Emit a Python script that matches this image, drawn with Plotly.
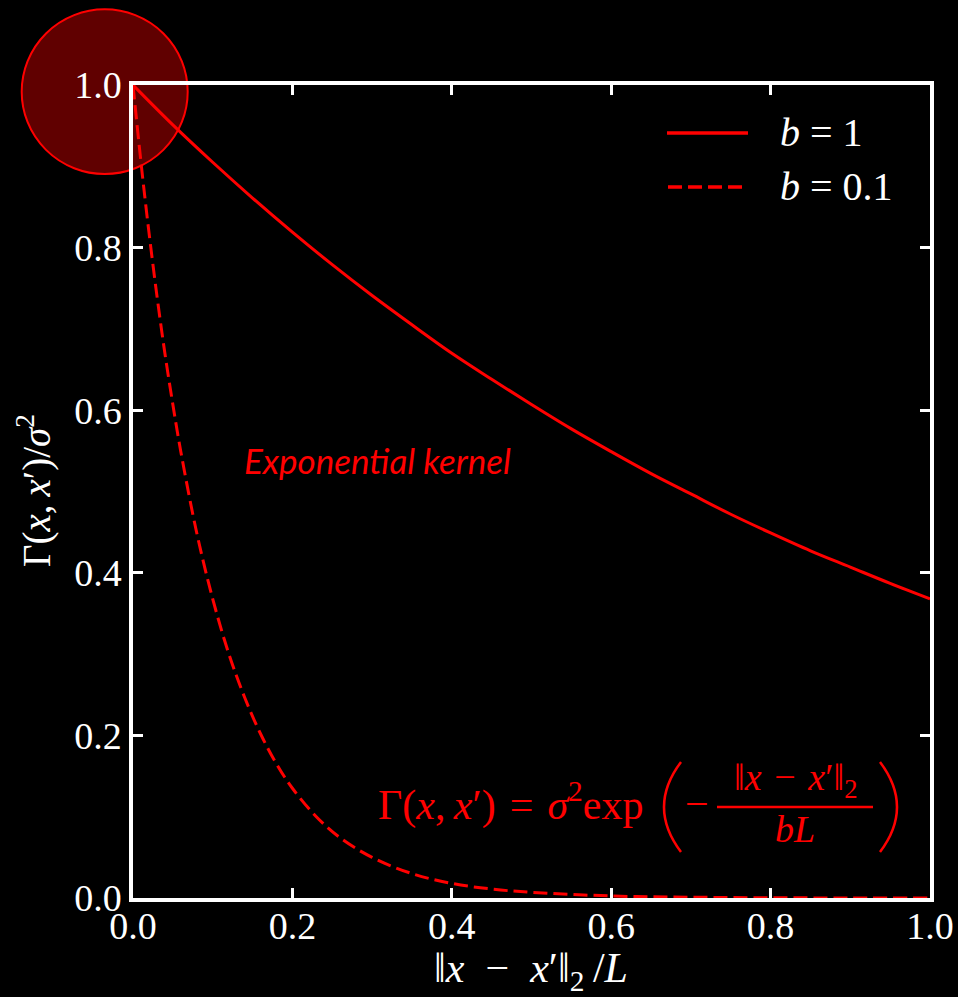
import plotly.graph_objects as go

# ---- data ----
x_b1 = [0.0, 0.05, 0.10, 0.15, 0.20, 0.25, 0.30, 0.35, 0.40, 0.45, 0.50,
        0.55, 0.60, 0.65, 0.70, 0.75, 0.80, 0.85, 0.90, 0.95, 1.0]
y_b1 = [1.0, 0.951, 0.905, 0.861, 0.819, 0.779, 0.741, 0.705, 0.670, 0.638, 0.607,
        0.577, 0.549, 0.522, 0.497, 0.472, 0.449, 0.427, 0.407, 0.387, 0.368]

x_b01 = [0.0, 0.01, 0.02, 0.03, 0.04, 0.05, 0.06, 0.08, 0.10, 0.12, 0.14, 0.16, 0.18,
         0.20, 0.23, 0.26, 0.30, 0.35, 0.40, 0.45, 0.50, 0.60, 0.70, 0.80, 0.90, 1.0]
y_b01 = [1.0, 0.905, 0.819, 0.741, 0.670, 0.607, 0.549, 0.449, 0.368, 0.301, 0.247, 0.202, 0.165,
         0.135, 0.100, 0.074, 0.050, 0.030, 0.018, 0.011, 0.007, 0.0025, 0.001, 0.0003, 0.0001, 0.00005]

series_names = ["<i>b</i> = 1", "<i>b</i> = 0.1"]
tick_vals = [0.0, 0.2, 0.4, 0.6, 0.8, 1.0]
tick_text = ["0.0", "0.2", "0.4", "0.6", "0.8", "1.0"]

# ---- layout geometry ----
W, H = 958, 997
L_, R_, T_, B_ = 133, 28, 85, 99
PW, PH = W - L_ - R_, H - T_ - B_


def px(xpix):
    return (xpix - L_) / PW


def py(ypix):
    return (H - B_ - ypix) / PH


RED = "#ff0000"
SERIF = "Liberation Serif"
TS = "\u2009"   # thin space
MS = "\u2004"   # three-per-em space
ES = "\u2002"   # en space

fig = go.Figure()
fig.add_trace(go.Scatter(x=x_b1, y=y_b1, mode="lines", name=series_names[0],
                         line=dict(color=RED, width=3, shape="spline"), showlegend=False))
fig.add_trace(go.Scatter(x=x_b01, y=y_b01, mode="lines", name=series_names[1],
                         line=dict(color=RED, width=3, dash="14px,6px", shape="spline"),
                         showlegend=False))

axis_common = dict(range=[0, 1], tickvals=tick_vals, ticktext=tick_text,
                   showline=True, linecolor="white", linewidth=3.5, mirror="ticks",
                   ticks="inside", ticklen=10, tickwidth=3, tickcolor="white",
                   showgrid=False, zeroline=False, automargin=False,
                   tickfont=dict(family=SERIF, size=38, color="white"))

fig.update_layout(
    template="none",
    width=W, height=H,
    margin=dict(l=L_, r=R_, t=T_, b=B_, autoexpand=False),
    paper_bgcolor="black", plot_bgcolor="rgba(0,0,0,0)",
    xaxis=dict(axis_common, ticklabelstandoff=-8),
    yaxis=dict(axis_common),
    showlegend=False,
)

shapes = []
# highlight circle
shapes.append(dict(type="circle", xref="paper", yref="paper",
                   x0=px(21.7), x1=px(187.7), y0=py(174), y1=py(9.3),
                   fillcolor="#600000", line=dict(color=RED, width=2), layer="below"))

# custom legend
shapes.append(dict(type="line", xref="paper", yref="paper",
                   x0=px(667), x1=px(748), y0=py(133), y1=py(133),
                   line=dict(color=RED, width=3.5)))
shapes.append(dict(type="line", xref="paper", yref="paper",
                   x0=px(668), x1=px(748), y0=py(187), y1=py(187),
                   line=dict(color=RED, width=3.5, dash="14px,6px")))

# formula parentheses and fraction bar
def paren(xtop, xmid, ytop, ybot):
    x0, y0 = px(xtop), py(ytop)
    x1, y1 = px(xtop), py(ybot)
    cx = px(2 * xmid - xtop)
    cy = (y0 + y1) / 2
    return f"M {x0} {y0} Q {cx} {cy} {x1} {y1}"

shapes.append(dict(type="path", xref="paper", yref="paper",
                   path=paren(681, 664, 762, 852), line=dict(color=RED, width=2.5)))
shapes.append(dict(type="path", xref="paper", yref="paper",
                   path=paren(880, 897, 762, 852), line=dict(color=RED, width=2.5)))
shapes.append(dict(type="line", xref="paper", yref="paper",
                   x0=px(717), x1=px(873), y0=py(807), y1=py(807),
                   line=dict(color=RED, width=2.5)))
fig.update_layout(shapes=shapes)

ann = []
# legend labels
ann.append(dict(x=px(778), y=py(133), xref="paper", yref="paper", text=series_names[0],
                showarrow=False, xanchor="left", yanchor="middle",
                font=dict(family=SERIF, size=40, color="white")))
ann.append(dict(x=px(778), y=py(187), xref="paper", yref="paper", text=series_names[1],
                showarrow=False, xanchor="left", yanchor="middle",
                font=dict(family=SERIF, size=40, color="white")))
# axis titles
ann.append(dict(x=px(531), y=py(971), xref="paper", yref="paper",
                text=f"‖<i>x</i>{ES}−{ES}<i>x</i>′‖<sub>2</sub>{TS}/<i>L</i>",
                showarrow=False, xanchor="center", yanchor="middle",
                font=dict(family=SERIF, size=42, color="white")))
ann.append(dict(x=px(34), y=py(491), xref="paper", yref="paper",
                text=f"Γ(<i>x</i>,{TS}<i>x</i>′)/<i>σ</i><sup>2</sup>", textangle=-90,
                showarrow=False, xanchor="center", yanchor="middle",
                font=dict(family=SERIF, size=39, color="white")))
# Exponential kernel label
ann.append(dict(x=px(377), y=py(460), xref="paper", yref="paper",
                text="<i>Exponential kernel</i>",
                showarrow=False, xanchor="center", yanchor="middle",
                font=dict(family="Lato", size=35, color=RED)))
# formula
ann.append(dict(x=px(645), y=py(802), xref="paper", yref="paper",
                text=f"Γ(<i>x</i>,{TS}<i>x</i>′){MS}={MS}<i>σ</i><sup>2</sup>exp",
                showarrow=False, xanchor="right", yanchor="middle",
                font=dict(family=SERIF, size=42, color=RED)))
ann.append(dict(x=px(697), y=py(804), xref="paper", yref="paper", text="−",
                showarrow=False, xanchor="center", yanchor="middle",
                font=dict(family=SERIF, size=42, color=RED)))
ann.append(dict(x=px(795), y=py(780), xref="paper", yref="paper",
                text=f"‖<i>x</i>{MS}−{MS}<i>x</i>′‖<sub>2</sub>",
                showarrow=False, xanchor="center", yanchor="middle",
                font=dict(family=SERIF, size=38, color=RED)))
ann.append(dict(x=px(795), y=py(829), xref="paper", yref="paper",
                text="<i>bL</i>",
                showarrow=False, xanchor="center", yanchor="middle",
                font=dict(family=SERIF, size=38, color=RED)))
fig.update_layout(annotations=ann)

fig.write_html("out.html")
